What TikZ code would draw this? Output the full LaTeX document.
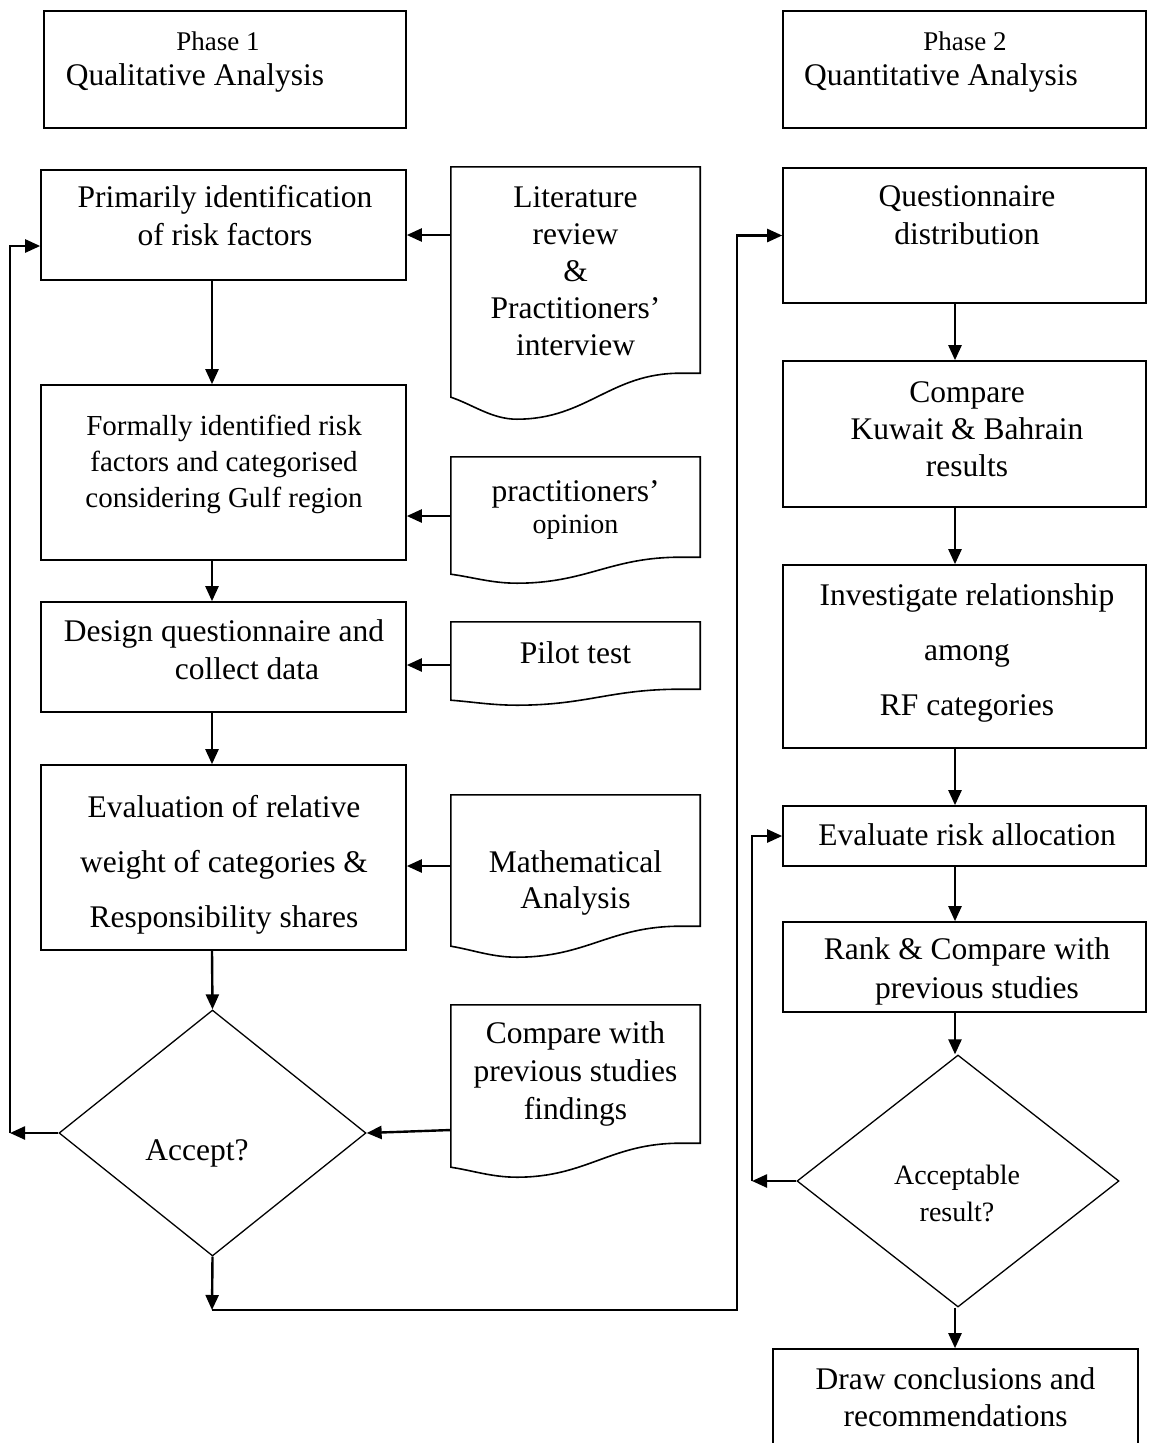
\documentclass[tikz,border=0pt]{standalone}
\usepackage{fontspec}
\setmainfont{Liberation Serif}
\usetikzlibrary{shapes.geometric,arrows.meta,calc}

% Document symbol drawn round a borderless node:
% #1 node name, #2 drop of the lower left corner, #3 depth of the wave trough
\newcommand{\docoutline}[3]{%
  \draw[docline] (#1.north west) -- (#1.north east) -- (#1.south east) -- ++(-20,0)
    .. controls +(-70,0) and +(70,0) .. ($(#1.south west)+(66,#3)$)
    .. controls +(-25,0) and +(22,{(#3-#2)/3}) .. ($(#1.south west)+(0,#2)$) -- cycle;}

\begin{document}
\begin{tikzpicture}[x=1pt,y=-1pt,
  box/.style={draw, line width=1.6pt, inner sep=0pt},
  docnode/.style={inner sep=0pt, minimum width=249pt},
  docline/.style={line width=1.6pt, line join=miter},
  decision/.style={diamond, draw, line width=1.3pt, inner sep=0pt},
  txt/.style={align=center, inner sep=0pt, font=\fontsize{31.5}{38}\selectfont},
  flow/.style={line width=2.4pt, -{Triangle[length=15pt,width=13pt]}}]

\useasboundingbox (0,0) rectangle (1150,1443);
\clip (0,0) rectangle (1150,1443);

% ---------- phase headers ----------
\node[box, minimum width=362pt, minimum height=117pt] (ph1) at (225,69.5) {};
\node[txt, font=\fontsize{31.5}{35}\selectfont] (ph1-t) at (195,62)
  {\hspace*{46pt}{\fontsize{27}{35}\selectfont Phase 1}\\Qualitative Analysis};
\node[box, minimum width=363pt, minimum height=117pt] (ph2) at (964.5,69.5) {};
\node[txt, font=\fontsize{31.5}{35}\selectfont] (ph2-t) at (941,62)
  {\hspace*{48pt}{\fontsize{27}{35}\selectfont Phase 2}\\Quantitative Analysis};

% ---------- phase 1 process boxes ----------
\node[box, minimum width=365pt, minimum height=110pt] (prim) at (223.5,225) {};
\node[txt] (prim-t) at (225,216) {Primarily identification\\of risk factors};

\node[box, minimum width=365pt, minimum height=175pt] (form) at (223.5,472.5) {};
\node[txt, font=\fontsize{29}{36}\selectfont] (form-t) at (224,464)
  {Formally identified risk\\factors and categorised\\considering Gulf region};

\node[box, minimum width=365pt, minimum height=110pt] (design) at (223.5,657) {};
\node[txt] (design-t) at (224,650) {Design questionnaire and\\\hspace*{46pt}collect data};

\node[box, minimum width=365pt, minimum height=185pt] (evalu) at (223.5,857.5) {};
\node[txt, font=\fontsize{31.5}{55}\selectfont] (evalu-t) at (224,865)
  {Evaluation of relative\\weight of categories \&\\Responsibility shares};

\node[decision, minimum width=307pt, minimum height=246pt] (accept) at (212.5,1133) {};
\node[txt] (accept-t) at (197,1153) {Accept?};

% ---------- phase 1 input documents ----------
\node[docnode, minimum height=206pt] (lit) at (575.5,270) {};
\docoutline{lit}{24}{46}
\node[txt, font=\fontsize{31.5}{37}\selectfont] (lit-t) at (575.5,271)
  {Literature\\review\\\&\\Practitioners’\\interview};

\node[docnode, minimum height=100pt] (prac) at (575.5,507) {};
\docoutline{prac}{17}{26}
\node[txt, font=\fontsize{31.5}{32}\selectfont] (prac-t) at (575.5,510)
  {practitioners’\\{\fontsize{28}{32}\selectfont opinion}};

\node[docnode, minimum height=67pt] (pilot) at (575.5,655.5) {};
\docoutline{pilot}{11}{16}
\node[txt] (pilot-t) at (575.5,653) {Pilot test};

\node[docnode, minimum height=131pt] (math) at (575.5,860.5) {};
\docoutline{math}{20}{31}
\node[txt, font=\fontsize{31.5}{36}\selectfont] (math-t) at (575.5,883)
  {Mathematical\\Analysis};

\node[docnode, minimum height=138pt] (comp) at (575.5,1074) {};
\docoutline{comp}{24}{34}
\node[txt, font=\fontsize{31.5}{38}\selectfont] (comp-t) at (575.5,1074)
  {Compare with\\previous studies\\findings};

% ---------- phase 2 process boxes ----------
\node[box, minimum width=363pt, minimum height=135pt] (ques) at (964.5,235.5) {};
\node[txt, font=\fontsize{31.5}{38}\selectfont] (ques-t) at (967,215)
  {Questionnaire\\distribution};

\node[box, minimum width=363pt, minimum height=146pt] (kuw) at (964.5,434) {};
\node[txt, font=\fontsize{31.5}{37}\selectfont] (kuw-t) at (967,429)
  {Compare\\Kuwait \& Bahrain\\results};

\node[box, minimum width=363pt, minimum height=183pt] (inv) at (964.5,656.5) {};
\node[txt, font=\fontsize{31.5}{55}\selectfont] (inv-t) at (967,653)
  {Investigate relationship\\among\\RF categories};

\node[box, minimum width=363pt, minimum height=60pt] (eval) at (964.5,836) {};
\node[txt] (eval-t) at (967,835) {Evaluate risk allocation};

\node[box, minimum width=363pt, minimum height=90pt] (rank) at (964.5,967) {};
\node[txt, font=\fontsize{31.5}{39}\selectfont] (rank-t) at (967,971)
  {Rank \& Compare with\\\hspace*{20pt}previous studies};

\node[decision, minimum width=322pt, minimum height=252pt] (acc) at (958,1181) {};
\node[txt, font=\fontsize{28}{37}\selectfont] (acc-t) at (957,1193)
  {Acceptable\\result?};

\node[box, minimum width=365pt, minimum height=130pt] (concl) at (955.5,1414) {};
\node[txt, font=\fontsize{31.5}{37}\selectfont] (concl-t) at (955.5,1397)
  {Draw conclusions and\\recommendations};

% ---------- connectors ----------
\coordinate (lcol) at (212,0);
\coordinate (rcol) at (955,0);

\draw[flow] (prim.south -| lcol) -- (form.north -| lcol);
\draw[flow] (form.south -| lcol) -- (design.north -| lcol);
\draw[flow] (design.south -| lcol) -- (evalu.north -| lcol);
\draw[flow] (evalu.south -| lcol) -- (accept.north);

\coordinate (lit-out) at ([yshift=35pt]lit.west);
\coordinate (prac-out) at ([yshift=-9pt]prac.west);
\coordinate (pilot-out) at ([yshift=-9.5pt]pilot.west);
\coordinate (math-out) at ([yshift=-5.5pt]math.west);
\coordinate (comp-out) at ([yshift=-56pt]comp.west);
\draw[flow] (lit-out) -- (lit-out -| prim.east);
\draw[flow] (prac-out) -- (prac-out -| form.east);
\draw[flow] (pilot-out) -- (pilot-out -| design.east);
\draw[flow] (math-out) -- (math-out -| evalu.east);
\draw[flow] (comp-out) -- (accept.east);

% rejection loop back to the first step
\coordinate (lret) at (10,1133);
\coordinate (prim-in) at ([yshift=-21pt]prim.west);
\draw[flow] (accept.west) -- (lret);
\draw[flow] (lret) |- (prim-in);

% acceptance leads on to phase 2
\coordinate (join) at (212,1310);
\coordinate (bus) at (737,0);
\draw[flow] (accept.south) -- (join);
\draw[flow] (join) -- (join -| bus) |- (ques.west);

\draw[flow] (ques.south -| rcol) -- (kuw.north -| rcol);
\draw[flow] (kuw.south -| rcol) -- (inv.north -| rcol);
\draw[flow] (inv.south -| rcol) -- (eval.north -| rcol);
\draw[flow] (eval.south -| rcol) -- (rank.north -| rcol);
\draw[flow] (rank.south -| rcol) -- (acc.north -| rcol);
\draw[flow] (acc.south -| rcol) -- (concl.north -| rcol);

% re-evaluation loop
\coordinate (rret) at (752,1181);
\draw[flow] (acc.west) -- (rret);
\draw[flow] (rret) |- (eval.west);
\end{tikzpicture}
\end{document}
